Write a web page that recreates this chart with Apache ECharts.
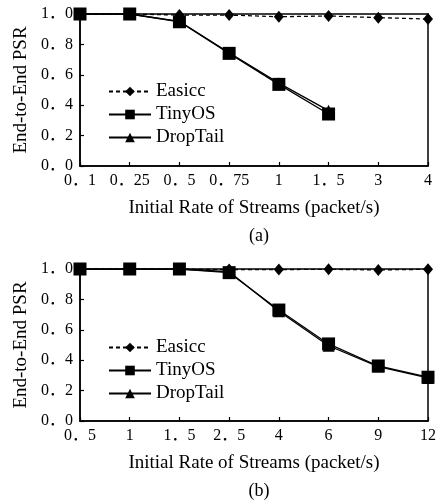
<!DOCTYPE html>
<html>
<head>
<meta charset="utf-8">
<script src="https://cdn.jsdelivr.net/npm/echarts@6/dist/echarts.min.js"></script>
<style>
html,body{margin:0;padding:0;background:#fff;}
#chart{width:445px;height:503px;}
</style>
</head>
<body>
<div id="chart"></div>
<script>
// Data
var catsA = ['0．1','0．25','0．5','0．75','1','1．5','3','4'];
var catsB = ['0．5','1','1．5','2．5','4','6','9','12'];
var yTicks = ['0．0','0．2','0．4','0．6','0．8','1．0'];
var easiccA   = [1.0, 1.0, 0.993, 0.993, 0.982, 0.987, 0.976, 0.967];
var tinyosA   = [1.0, 1.0, 0.949, 0.741, 0.537, 0.342];
var droptailA = [1.0, 1.0, 0.952, 0.745, 0.545, 0.364];
var easiccB   = [1.0, 1.0, 1.0, 0.996, 0.996, 0.998, 0.994, 0.998];
var tinyosB   = [1.0, 1.0, 1.0, 0.976, 0.730, 0.507, 0.362, 0.288];
var droptailB = [1.0, 1.0, 1.0, 0.982, 0.722, 0.495, 0.358, 0.283];
var seriesNames = ['Easicc','TinyOS','DropTail'];
var xTitle = 'Initial Rate of Streams (packet/s)';
var yTitle = 'End-to-End PSR';

var FONT = '"Liberation Serif", "Times New Roman", "Noto Sans CJK SC", serif';
var chart = echarts.init(document.getElementById('chart'), null, {renderer:'canvas'});

function xAxis(cats, gi){
  return {
    type:'category', gridIndex:gi, data:cats, boundaryGap:false,
    axisLine:{lineStyle:{color:'#000', width:1.5}},
    axisTick:{inside:true, length:4, alignWithLabel:true, lineStyle:{color:'#000', width:1.2}},
    axisLabel:{color:'#000', fontFamily:FONT, fontSize:16, margin:7, interval:0},
    name:xTitle, nameLocation:'middle', nameGap:33,
    nameTextStyle:{color:'#000', fontFamily:FONT, fontSize:19},
    splitLine:{show:false}
  };
}
function yAxis(gi){
  return {
    type:'value', gridIndex:gi, min:0, max:1, interval:0.2,
    axisLine:{show:true, lineStyle:{color:'#000', width:1.5}},
    axisTick:{show:true, inside:true, length:4, lineStyle:{color:'#000', width:1.2}},
    axisLabel:{color:'#000', fontFamily:FONT, fontSize:16, margin:7,
      formatter:function(v){ return yTicks[Math.round(v/0.2)]; }},
    name:yTitle, nameLocation:'middle', nameGap:47,
    nameTextStyle:{color:'#000', fontFamily:FONT, fontSize:19},
    splitLine:{show:false}
  };
}
function mk(name, data, gi, sym, size, dashed, z){
  return {
    name:name, type:'line', xAxisIndex:gi, yAxisIndex:gi, data:data,
    symbol:sym, symbolSize:size, showSymbol:true, z:z,
    lineStyle:{color:'#000', width:1.3, type: dashed ? [4,3] : 'solid'},
    itemStyle:{color:'#000'},
    animation:false
  };
}
function legend(top){
  return {
    data:seriesNames, orient:'vertical', left:103, top:top,
    itemWidth:42, itemHeight:12, itemGap:4,
    textStyle:{color:'#000', fontFamily:FONT, fontSize:19},
    selectedMode:false
  };
}

chart.setOption({
  backgroundColor:'#fff',
  animation:false,
  title:[
    {text:'(a)', left:254, top:222, textAlign:'center', textStyle:{color:'#000', fontFamily:FONT, fontSize:18, fontWeight:'normal'}},
    {text:'(b)', left:254, top:477, textAlign:'center', textStyle:{color:'#000', fontFamily:FONT, fontSize:18, fontWeight:'normal'}}
  ],
  grid:[
    {left:80, top:14, width:348, height:152, show:true, borderColor:'#000', borderWidth:1.5, backgroundColor:'transparent'},
    {left:80, top:269, width:348, height:152, show:true, borderColor:'#000', borderWidth:1.5, backgroundColor:'transparent'}
  ],
  legend:[legend(77), legend(333)],
  xAxis:[xAxis(catsA,0), xAxis(catsB,1)],
  yAxis:[yAxis(0), yAxis(1)],
  series:[
    mk('Easicc', easiccA, 0, 'diamond', [10,12], true, 3),
    mk('DropTail', droptailA, 0, 'triangle', 12, false, 2),
    mk('TinyOS', tinyosA, 0, 'rect', 13, false, 4),
    mk('Easicc', easiccB, 1, 'diamond', [10,12], true, 3),
    mk('DropTail', droptailB, 1, 'triangle', 12, false, 2),
    mk('TinyOS', tinyosB, 1, 'rect', 13, false, 4)
  ]
});
</script>
</body>
</html>
